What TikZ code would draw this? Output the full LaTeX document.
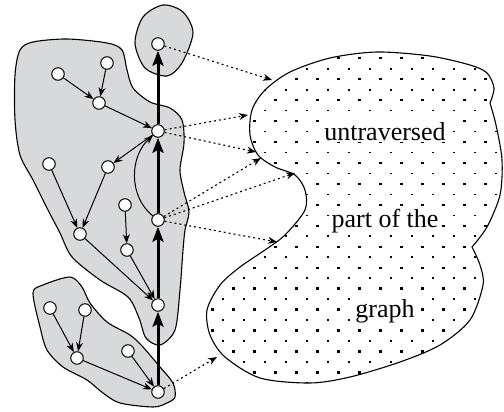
\documentclass[tikz,border=0pt]{standalone}
\usepackage{fontspec}
\setmainfont{Liberation Serif}
\usetikzlibrary{arrows.meta}
\definecolor{blobgray}{RGB}{216,217,219}
\tikzset{
  vertex/.style={circle,draw,fill=white,line width=1pt,minimum size=12.5pt,inner sep=0pt},
  thinarrow/.style={line width=1pt,-{Stealth[length=9pt,width=7pt]}},
  patharrow/.style={line width=3pt,-{Stealth[length=15pt,width=11pt,inset=3pt]}},
  dotarrow/.style={line width=1.1pt,dash pattern=on 2pt off 3pt,-{Stealth[length=9pt,width=7pt]}},
  blob/.style={draw,fill=blobgray,line width=1.1pt},
  cloudtext/.style={fill=white,inner sep=2pt,anchor=base,font=\fontsize{26}{30}\selectfont}
}
\begin{document}
\begin{tikzpicture}[x=1pt,y=-1pt]
            \useasboundingbox (0,0) rectangle (504,412);
            \def\topblob{plot[smooth cycle] coordinates {(135,43) (143,17) (163,5) (183,12) (193,33) (182,63) (167,76) (145,68)}}
            \def\bigblob{plot[smooth cycle] coordinates {(20,50) (33,42) (67,39) (107,43) (122,50) (127,70) (133,88) (150,102) (170,108) (182,120) (184,143) (180,170) (184,192) (189,212) (185,230) (183,250) (180,290) (175,330) (160,345) (146,338) (139,318) (128,297) (100,280) (72,257) (60,233) (48,210) (33,180) (20,155) (15,120) (15,75)}}
            \def\lowblob{plot[smooth cycle] coordinates {(33,293) (43,285) (70,277) (82,287) (90,303) (107,322) (130,335) (143,347) (160,367) (173,383) (175,397) (167,403) (153,407) (120,403) (103,393) (87,380) (63,367) (47,350) (40,327)}}
            \def\cloud{plot[smooth] coordinates {(472,247) (487,227) (500,195) (502,160) (496,125) (490,103)}
              -- plot[smooth] coordinates {(490,103) (494,88) (487,73) (470,65) (430,56) (377,52) (330,58) (290,72) (265,90) (252,110) (250,135) (258,155) (275,167) (295,175) (305,190) (305,210) (285,235) (265,250) (240,267) (220,285) (207,310) (210,335) (225,357) (260,378) (310,383) (350,377) (400,362) (440,345) (470,320) (483,285) (480,265) (472,247)} -- cycle}
            \path[blob] \topblob;
            \path[blob] \bigblob;
            \path[blob] \lowblob;
                \begin{scope}
            \clip \cloud;
            \foreach \j in {0,...,31}{
              \pgfmathsetmacro\dy{58.3+10.47*\j}
              \pgfmathsetmacro\dx{10.5*mod(\j,2)}
              \pgfmathsetmacro\ds{2.4-0.7*mod(\j,2)}
              \foreach \k in {0,...,15}
                \fill (191.3-\dx+21*\k-\ds/2,\dy-\ds/2) rectangle +(\ds,\ds);
            }
                \end{scope}
            \draw[line width=1.1pt] \cloud;
            \node[cloudtext] (t1) at (385,140) {untraversed};
            \node[cloudtext] (t2) at (385,227) {part of the};
            \node[cloudtext] (t3) at (385,317) {graph};
            \node[vertex] (top) at (158,44) {};
            \node[vertex] (s1) at (158,131) {};
            \node[vertex] (s2) at (158,220) {};
            \node[vertex] (s3) at (158,305) {};
            \node[vertex] (s4) at (158,392) {};
            \node[vertex] (u1) at (58,74) {};
            \node[vertex] (u2) at (107,63) {};
            \node[vertex] (u3) at (99,103) {};
            \node[vertex] (u4) at (49,164) {};
            \node[vertex] (u5) at (108,167) {};
            \node[vertex] (u6) at (125,205) {};
            \node[vertex] (u7) at (80,234) {};
            \node[vertex] (u8) at (127,250) {};
            \node[vertex] (w1) at (50,308) {};
            \node[vertex] (w2) at (85,310) {};
            \node[vertex] (w3) at (77,358) {};
            \node[vertex] (w4) at (128,351) {};
            \coordinate (e1) at (272,80);
            \coordinate (e2) at (248,115);
            \coordinate (e3) at (256,152);
            \coordinate (e4) at (261,158);
            \coordinate (e5) at (295,173);
            \coordinate (e6) at (277,242);
            \coordinate (e7) at (217,357);
            \foreach \a/\b in {u1/u3,u2/u3,u3/s1,s1/u5,u4/u7,u5/u7,u6/u8,u7/s3,u8/s3,w1/w3,w2/w3,w3/s4,w4/s4}
              \draw[thinarrow] (\a) -- (\b);
            \draw[thinarrow] (s2) .. controls (128,196) and (130,156) .. (s1);
            \foreach \a/\b in {s4/s3,s3/s2,s2/s1,s1/top}
              \draw[patharrow] (\a) -- (\b);
            \foreach \a/\b in {top/e1,s1/e2,s1/e3,s2/e4,s2/e5,s2/e6,s4/e7}
              \draw[dotarrow] (\a) -- (\b);
        \end{tikzpicture}
\end{document}
